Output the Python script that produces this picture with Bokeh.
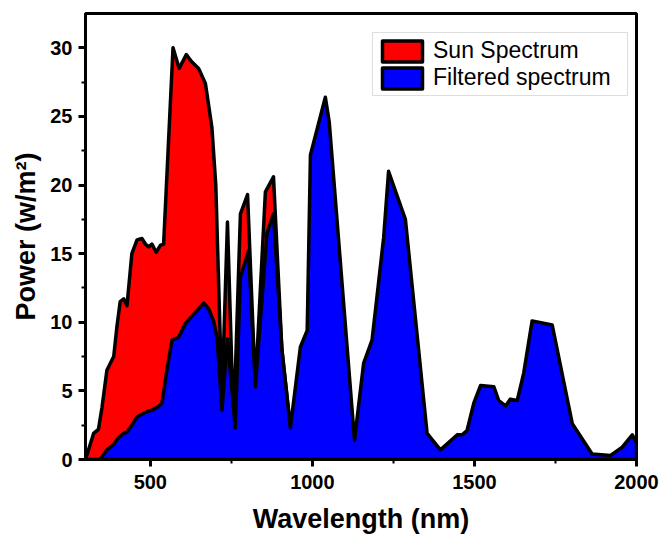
from bokeh.plotting import figure
from bokeh.models import FixedTicker, Range1d
from bokeh.embed import file_html
from bokeh.resources import INLINE

# Sun spectrum (red) - wavelength (nm) and power (W/m^2)
sun_wl = [300, 325, 340, 351, 366, 387, 397, 407, 418, 428, 443, 459, 474, 485, 495,
          505, 518, 531, 541, 570, 589, 611, 627, 649, 670, 690, 702, 721, 738, 757,
          778, 800, 824, 855, 880, 906, 932]
sun_pw = [0, 1.9, 2.2, 3.8, 6.5, 7.5, 9.7, 11.5, 11.7, 11.2, 15.0, 16.0, 16.1, 15.7, 15.5,
          15.7, 15.1, 15.6, 15.7, 30.0, 28.5, 29.5, 29.0, 28.5, 27.4, 24.2, 20.0, 4.5, 17.3, 2.4,
          17.9, 19.3, 5.3, 19.5, 20.6, 8.0, 2.4]

# Filtered spectrum (blue)
filt_wl = [345, 366, 387, 402, 418, 428, 443, 459, 474, 490, 505, 521, 536, 551, 567,
           587, 608, 634, 665, 680, 695, 706, 721, 738, 762, 778, 803, 824, 860, 880,
           906, 932, 963, 984, 994, 1040, 1052, 1130, 1158, 1184, 1199, 1220, 1235, 1287,
           1354, 1395, 1447, 1462, 1477, 1498, 1519, 1560, 1575, 1596, 1611, 1632, 1652,
           1678, 1740, 1802, 1863, 1920, 1956, 1987, 2000]
filt_pw = [0, 0.7, 1.1, 1.6, 1.9, 2.0, 2.5, 3.1, 3.3, 3.5, 3.6, 3.8, 4.1, 6.5, 8.7,
           8.9, 9.9, 10.6, 11.4, 11.0, 10.1, 8.9, 3.6, 8.8, 2.3, 13.3, 15.2, 5.3, 16.5, 17.9,
           8.0, 2.3, 8.2, 9.4, 22.2, 26.4, 24.6, 1.4, 7.0, 8.7, 11.8, 16.2, 21.0, 17.5,
           1.9, 0.7, 1.8, 1.8, 2.1, 4.1, 5.4, 5.3, 4.3, 3.9, 4.4, 4.3, 6.3,
           10.1, 9.8, 2.6, 0.4, 0.3, 0.9, 1.8, 1.2]

x_ticks = [500, 1000, 1500, 2000]
x_minor = [750, 1250, 1750]
y_ticks = [0, 5, 10, 15, 20, 25, 30]
y_minor = [2.5, 7.5, 12.5, 17.5, 22.5, 27.5]

FONT = "Liberation Sans"

p = figure(width=663, height=541, output_backend="svg", toolbar_location=None,
           x_range=Range1d(300, 2000), y_range=Range1d(0, 32.5),
           min_border_left=85, min_border_right=27, min_border_top=13, min_border_bottom=82)

def closed(xs, ys):
    return [xs[0]] + list(xs) + [xs[-1]], [0] + list(ys) + [0]

sx, sy = closed(sun_wl, sun_pw)
fx, fy = closed(filt_wl, filt_pw)

p.patch(sx, sy, fill_color="#ff0000", line_color="black", line_width=3.5,
        line_join="round", legend_label="Sun Spectrum")
p.patch(fx, fy, fill_color="#0000ff", line_color="black", line_width=3.5,
        line_join="round", legend_label="Filtered spectrum")

p.xgrid.visible = False
p.ygrid.visible = False
p.outline_line_color = "black"
p.outline_line_width = 3
p.background_fill_color = "white"
p.border_fill_color = "white"

p.xaxis.ticker = FixedTicker(ticks=x_ticks, minor_ticks=x_minor)
p.yaxis.ticker = FixedTicker(ticks=y_ticks, minor_ticks=y_minor)

for ax in (p.xaxis[0], p.yaxis[0]):
    ax.axis_line_width = 3
    ax.axis_line_color = "black"
    ax.major_tick_line_width = 3
    ax.minor_tick_line_width = 2
    ax.major_tick_in = 0
    ax.major_tick_out = 7
    ax.minor_tick_in = 0
    ax.minor_tick_out = 4
    ax.major_label_text_font = FONT
    ax.major_label_text_font_style = "bold"
    ax.major_label_text_font_size = "20px"
    ax.major_label_text_color = "black"
    ax.major_label_standoff = 6
    ax.axis_label_text_font = FONT
    ax.axis_label_text_font_style = "bold"
    ax.axis_label_text_font_size = "27px"
    ax.axis_label_text_color = "black"

p.xaxis.major_label_standoff = 8
p.xaxis.axis_label = "Wavelength (nm)"
p.xaxis.axis_label_standoff = 12
p.yaxis.axis_label = "Power (w/m²)"
p.yaxis.axis_label_standoff = 6

lg = p.legend[0]
lg.location = (287, 363)
lg.label_text_font = FONT
lg.label_text_font_size = "23px"
lg.label_text_color = "black"
lg.glyph_width = 50
lg.glyph_height = 26
lg.label_height = 26
lg.label_width = 190
lg.spacing = 0
lg.padding = 4
lg.margin = 0
lg.label_standoff = 6
lg.border_line_color = "#bdbdbd"
lg.border_line_width = 1
lg.background_fill_color = "white"
lg.background_fill_alpha = 1

open("out.html", "w").write(file_html(p, INLINE))
